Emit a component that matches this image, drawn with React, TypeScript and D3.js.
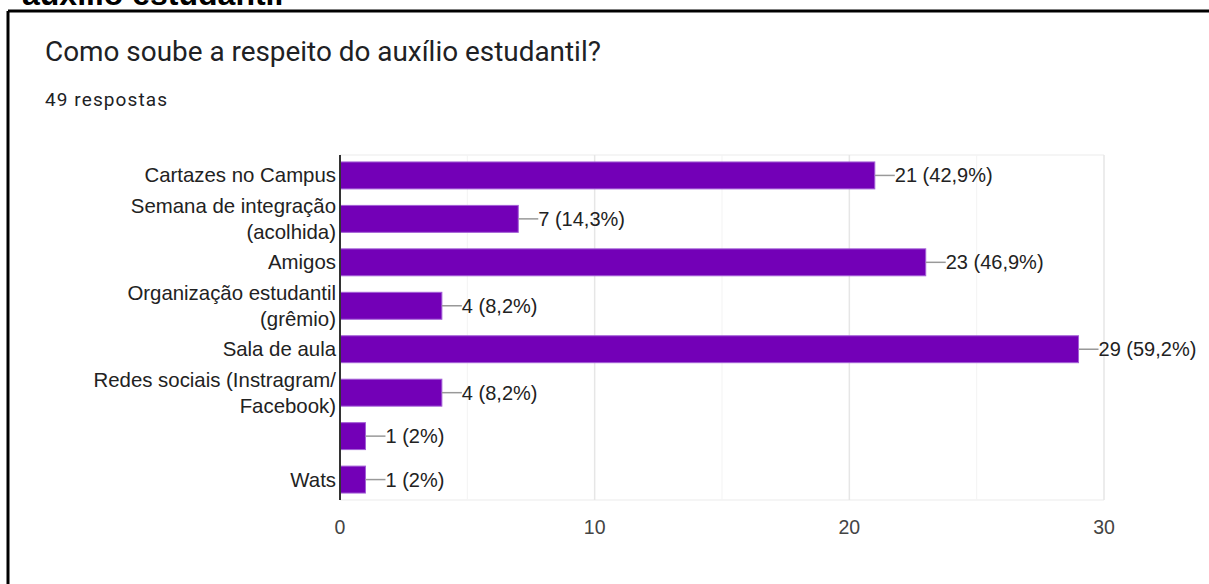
import React from "react";
import * as d3 from "d3";

const categories: string[][] = [
  ["Cartazes no Campus"],
  ["Semana de integração", "(acolhida)"],
  ["Amigos"],
  ["Organização estudantil", "(grêmio)"],
  ["Sala de aula"],
  ["Redes sociais (Instragram/", "Facebook)"],
  [""],
  ["Wats"],
];
const values: number[] = [21, 7, 23, 4, 29, 4, 1, 1];
const percents: string[] = ["42,9%", "14,3%", "46,9%", "8,2%", "59,2%", "8,2%", "2%", "2%"];
const xTicks: number[] = [0, 10, 20, 30];
const minorTicks: number[] = [5, 15, 25];

const W = 1209;
const H = 584;
const plot = { left: 340, right: 1104, top: 155, bottom: 500 };

export default function App() {
  const x = d3.scaleLinear().domain([0, 30]).range([plot.left, plot.right]);
  const y = d3
    .scaleBand<number>()
    .domain(d3.range(categories.length))
    .range([plot.top, plot.bottom])
    .paddingInner(0.38)
    .paddingOuter(0.16);
  const font = "'Liberation Sans', Arial, sans-serif";
  return (
    <div style={{ position: "absolute", left: 0, top: 0, width: W, height: H, background: "#fff" }}>
      <svg width={W} height={H} style={{ display: "block" }}>
        <rect x={0} y={0} width={W} height={H} fill="#fff" />
        <text x={22} y={5} fontFamily={font} fontWeight="bold" fontSize={32} fill="#000">
          auxílio estudantil
        </text>
        <line x1={8} y1={11} x2={W} y2={11} stroke="#000" strokeWidth={3} />
        <line x1={8} y1={11} x2={8} y2={H} stroke="#000" strokeWidth={3} />
        <text x={45} y={61} fontFamily="Roboto, sans-serif" fontSize={27.9} fill="#202124">
          Como soube a respeito do auxílio estudantil?
        </text>
        <text x={45} y={106} fontFamily="Roboto, sans-serif" fontSize={19} fill="#202124" letterSpacing={1.1}>
          49 respostas
        </text>
        {/* grid */}
        <line x1={plot.left} y1={plot.top} x2={plot.right} y2={plot.top} stroke="#ebebeb" strokeWidth={1} />
        <line x1={plot.left} y1={plot.bottom} x2={plot.right} y2={plot.bottom} stroke="#ebebeb" strokeWidth={1} />
        {minorTicks.map((t) => (
          <line key={"m" + t} x1={x(t)} y1={plot.top} x2={x(t)} y2={plot.bottom} stroke="#f3f3f3" strokeWidth={1} />
        ))}
        {xTicks.slice(1).map((t) => (
          <line key={"g" + t} x1={x(t)} y1={plot.top} x2={x(t)} y2={plot.bottom} stroke="#e6e6e6" strokeWidth={1.5} />
        ))}
        {xTicks.map((t) => (
          <text key={"t" + t} x={x(t)} y={534} textAnchor="middle" fontFamily={font} fontSize={19.5} fill="#444">
            {t}
          </text>
        ))}
        {/* bars */}
        {values.map((v, i) => {
          const by = y(i)!;
          const bh = y.bandwidth();
          const cy = by + bh / 2;
          const xe = x(v);
          return (
            <g key={i}>
              <rect x={x(0)} y={by} width={xe - x(0)} height={bh} fill="#7300b7" stroke="#a35fd6" strokeWidth={1} />
              <line x1={xe} y1={cy} x2={xe + 20} y2={cy} stroke="#999" strokeWidth={1.5} />
              <text x={xe + 20} y={cy + 7} fontFamily={font} fontSize={20} fill="#222">
                {`${v} (${percents[i]})`}
              </text>
              {categories[i].map((line, j) => {
                const n = categories[i].length;
                const ly = cy + (j - (n - 1) / 2) * 26 + 7;
                return (
                  <text key={j} x={336} y={ly} textAnchor="end" fontFamily={font} fontSize={20.4} fill="#222">
                    {line}
                  </text>
                );
              })}
            </g>
          );
        })}
        <line x1={plot.left} y1={plot.top} x2={plot.left} y2={plot.bottom} stroke="#333" strokeWidth={2} />
      </svg>
    </div>
  );
}
